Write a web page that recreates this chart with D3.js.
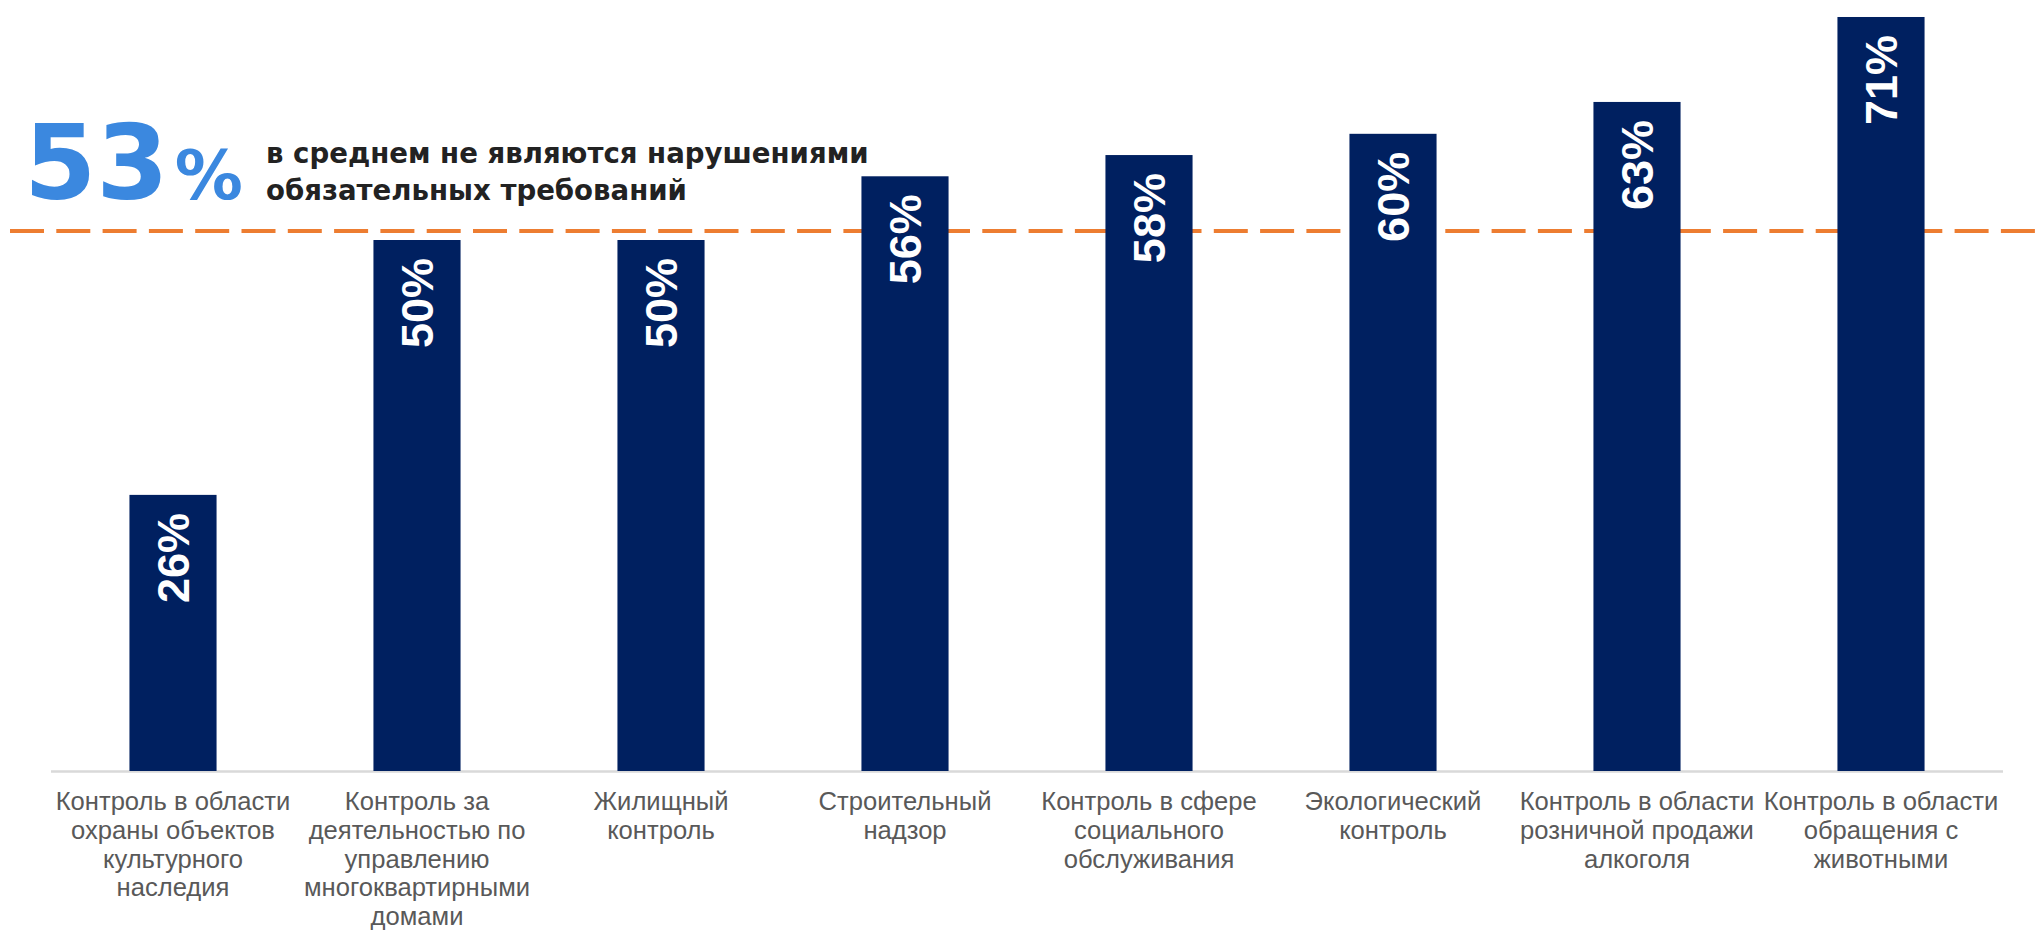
<!DOCTYPE html>
<html>
<head>
<meta charset="utf-8">
<script src="https://cdn.jsdelivr.net/npm/d3@7"></script>
<style>
  body { margin: 0; background: #fff; }
  svg { display: block; }
</style>
</head>
<body>
<svg id="chart" width="2035" height="931"></svg>
<script>
// категории (переносы строк как на исходной картинке)
const categories = [
    "Контроль в области\nохраны объектов\nкультурного\nнаследия",
    "Контроль за\nдеятельностью по\nуправлению\nмногоквартирными\nдомами",
    "Жилищный\nконтроль",
    "Строительный\nнадзор",
    "Контроль в сфере\nсоциального\nобслуживания",
    "Экологический\nконтроль",
    "Контроль в области\nрозничной продажи\nалкоголя",
    "Контроль в области\nобращения с\nживотными"
];
const values = [26, 50, 50, 56, 58, 60, 63, 71];
const average = 53;
const averageText = ["в среднем не являются нарушениями", "обязательных требований"];

const svg = d3.select("#chart");

const x = d3.scaleBand()
    .domain(d3.range(categories.length))
    .range([51, 2003])
    .paddingInner(0.643)
    .paddingOuter(0.3215);

const y = d3.scaleLinear()
    .domain([0, 72.6])
    .range([771, 0]);

// средняя линия (пунктир) - под столбцами
svg.append("line")
    .attr("x1", 10).attr("x2", 2035)
    .attr("y1", 231).attr("y2", 231)
    .attr("stroke", "#ed7d31")
    .attr("stroke-width", 4)
    .attr("stroke-dasharray", "34 12.3");

// линия оси
svg.append("line")
    .attr("x1", 51).attr("x2", 2003)
    .attr("y1", 771.5).attr("y2", 771.5)
    .attr("stroke", "#d9d9d9")
    .attr("stroke-width", 2.5);

// столбцы
svg.append("g")
    .selectAll("rect")
    .data(values)
    .enter()
    .append("rect")
    .attr("x", (d, i) => x(i))
    .attr("width", x.bandwidth())
    .attr("y", d => y(d))
    .attr("height", d => y(0) - y(d))
    .attr("fill", "#002060");

// подписи значений (повернуты)
svg.append("g")
    .selectAll("text")
    .data(values)
    .enter()
    .append("text")
    .attr("transform", (d, i) => `translate(${x(i) + x.bandwidth() / 2},${y(d) + 18}) rotate(-90)`)
    .attr("text-anchor", "end")
    .attr("dy", "0.36em")
    .attr("fill", "#fff")
    .style("font-family", "'Liberation Sans', Arial, sans-serif")
    .style("font-weight", "bold")
    .style("font-size", "45px")
    .text(d => d + "%");

// подписи категорий
const labels = svg.append("g")
    .selectAll("text")
    .data(categories)
    .enter()
    .append("text")
    .attr("text-anchor", "middle")
    .attr("fill", "#595959")
    .style("font-family", "'Liberation Sans', Arial, sans-serif")
    .style("font-size", "25.6px");

labels.each(function(d, i) {
    const t = d3.select(this);
    d.split("\n").forEach((line, k) => {
        t.append("tspan")
            .attr("x", x(i) + x.bandwidth() / 2)
            .attr("y", 810 + k * 28.8)
            .text(line);
    });
});

// заголовок 53%
const big = svg.append("text")
    .attr("x", 24)
    .attr("y", 199)
    .attr("fill", "#3b88df")
    .style("font-family", "'DejaVu Sans', Verdana, sans-serif")
    .style("font-weight", "bold");
big.append("tspan").style("font-size", "104px").text(average);
big.append("tspan").attr("dx", 6).style("font-size", "68px").text("%");

svg.append("g")
    .selectAll("text")
    .data(averageText)
    .enter()
    .append("text")
    .attr("x", 266)
    .attr("y", (d, i) => 163 + i * 37)
    .attr("fill", "#222")
    .style("font-family", "'DejaVu Sans', Verdana, sans-serif")
    .style("font-weight", "bold")
    .style("font-size", "27.6px")
    .text(d => d);
</script>
</body>
</html>
